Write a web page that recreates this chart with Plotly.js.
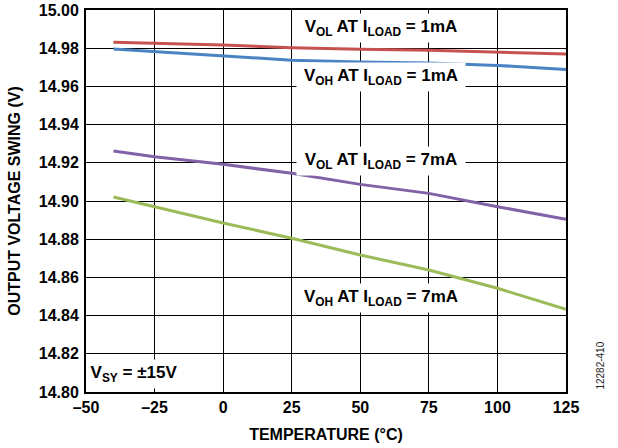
<!DOCTYPE html>
<html>
<head>
<meta charset="utf-8">
<script src="https://cdn.plot.ly/plotly-3.0.1.min.js"></script>
<style>html,body{margin:0;padding:0;background:#fff;}#chart{width:618px;height:448px;}</style>
</head>
<body>
<div id="chart"></div>
<script>
// Data
const temperature = [-40, -25, 0, 25, 50, 75, 100, 125];
const volAt1mA = [14.9831, 14.9826, 14.9817, 14.9803, 14.9794, 14.9789, 14.9778, 14.9770];
const vohAt1mA = [14.9796, 14.9782, 14.9759, 14.9737, 14.9728, 14.9723, 14.9710, 14.9689];
const volAt7mA = [14.9262, 14.9232, 14.9192, 14.9145, 14.9087, 14.9040, 14.8970, 14.8905];
const vohAt7mA = [14.9021, 14.8970, 14.8885, 14.8805, 14.8717, 14.8639, 14.8543, 14.8433];
const xTickVals = [-50, -25, 0, 25, 50, 75, 100, 125];
const xTickText = ['\u201350', '\u201325', '0', '25', '50', '75', '100', '125'];
const seriesNames = ['V<sub>OL</sub> AT I<sub>LOAD</sub> = 1mA', 'V<sub>OH</sub> AT I<sub>LOAD</sub> = 1mA',
                     'V<sub>OL</sub> AT I<sub>LOAD</sub> = 7mA', 'V<sub>OH</sub> AT I<sub>LOAD</sub> = 7mA'];
const seriesColors = ['#c65250', '#4a82c4', '#8162a6', '#9bbb59'];
const seriesValues = [volAt1mA, vohAt1mA, volAt7mA, vohAt7mA];
// label anchor positions (data coords)
const labelX = [57.5, 57.5, 57.5, 57.5];
const labelY = [14.9908, 14.9647, 14.9209, 14.8492];

const FONT = 'Arial, "Liberation Sans", Helvetica, sans-serif';

const traces = seriesValues.map((v, i) => ({
  x: temperature, y: v, type: 'scatter', mode: 'lines', name: seriesNames[i],
  line: {color: seriesColors[i], width: 3},
  hoverinfo: 'skip'
}));

const annotations = seriesNames.map((t, i) => ({
  xref: 'x', yref: 'y', x: labelX[i], y: labelY[i], text: t, showarrow: false,
  xanchor: 'center', yanchor: 'middle',
  font: {family: FONT, size: 17, color: '#000', weight: 'bold'},
  bgcolor: '#ffffff', width: 164, height: 24, borderpad: 2
}));
annotations.push({
  xref: 'x', yref: 'y', x: -32.5, y: 14.8094, text: 'V<sub>SY</sub> = \u00b115V', showarrow: false,
  xanchor: 'center', yanchor: 'middle',
  font: {family: FONT, size: 17, color: '#000', weight: 'bold'},
  bgcolor: '#ffffff', width: 88, height: 24, borderpad: 2
});
annotations.push({
  xref: 'paper', yref: 'paper', x: 1.07, y: 0.0, text: '12282-410', showarrow: false,
  textangle: -90, xanchor: 'center', yanchor: 'bottom',
  font: {family: FONT, size: 10, color: '#222'}
});

const layout = {
  width: 618, height: 448,
  margin: {l: 86, r: 52, t: 10, b: 56},
  paper_bgcolor: '#fff', plot_bgcolor: '#fff',
  showlegend: false,
  font: {family: FONT, color: '#000'},
  xaxis: {
    range: [-50, 125], tickvals: xTickVals, ticktext: xTickText,
    showgrid: true, gridcolor: '#000', gridwidth: 1,
    zeroline: false, showline: true, linecolor: '#000', linewidth: 2, mirror: true,
    ticks: '', tickfont: {family: FONT, size: 16, weight: 'bold'},
    title: {text: 'TEMPERATURE (\u00b0C)', font: {family: FONT, size: 16, weight: 'bold'}, standoff: 14},
    automargin: false
  },
  yaxis: {
    range: [14.80, 15.00], dtick: 0.02, tick0: 14.80, tickformat: '.2f',
    showgrid: true, gridcolor: '#000', gridwidth: 1,
    zeroline: false, showline: true, linecolor: '#000', linewidth: 2, mirror: true,
    ticks: '', ticklabelstandoff: 2, tickfont: {family: FONT, size: 16, weight: 'bold'},
    title: {text: 'OUTPUT VOLTAGE SWING (V)', font: {family: FONT, size: 16, weight: 'bold'}, standoff: 14},
    automargin: false
  },
  annotations: annotations
};

Plotly.newPlot('chart', traces, layout, {displayModeBar: false, staticPlot: true});
</script>
</body>
</html>
